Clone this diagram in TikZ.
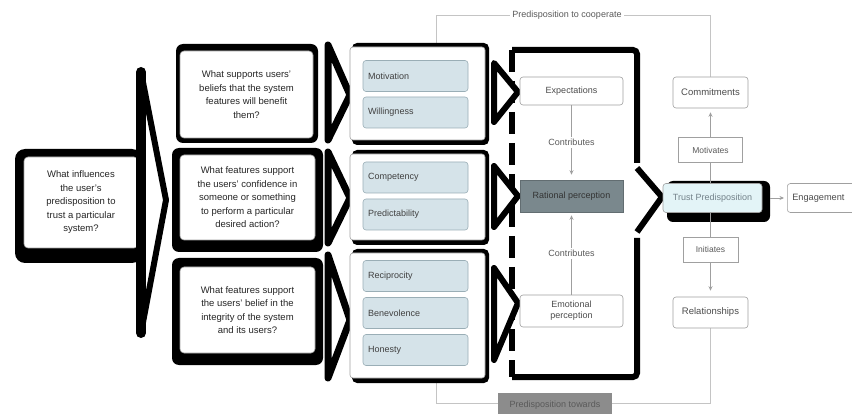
\documentclass[tikz,border=0pt]{standalone}
\usepackage{fontspec}
\setmainfont{Liberation Sans}
\usetikzlibrary{arrows.meta}
\definecolor{itemfill}{HTML}{D5E3E9}
\definecolor{itemline}{HTML}{9AAEB6}
\definecolor{ratfill}{HTML}{7A888D}
\definecolor{trustfill}{HTML}{E3F4F7}
\definecolor{loopcol}{HTML}{C4C4C4}
\definecolor{boxcol}{HTML}{A0A0A0}
\definecolor{lblcol}{HTML}{5A5A5A}
\definecolor{bottomfill}{HTML}{8C8C8C}
\begin{document}
\begin{tikzpicture}[x=1pt,y=-1pt,
  shadowfill/.style={fill=black, rounded corners=7},
  qbox/.style={fill=white, draw=boxcol, line width=0.6, rounded corners=4, inner sep=0pt, align=center, font=\fontsize{9.5}{13.5}\selectfont, text=black!85},
  cbox/.style={fill=white, draw=boxcol, line width=0.6, rounded corners=3, inner sep=0pt},
  itembox/.style={fill=itemfill, draw=itemline, line width=0.6, rounded corners=3, minimum width=105, minimum height=31, inner sep=0pt, text width=95, align=left, font=\fontsize{9}{11}\selectfont, text=black!75},
  pbox/.style={fill=white, draw=boxcol, line width=0.6, rounded corners=3, inner sep=0pt, align=center, font=\fontsize{9}{11}\selectfont, text=black!70},
  ratbox/.style={fill=ratfill, draw=ratfill!80!black, line width=0.6, minimum width=103, minimum height=32, inner sep=0pt, font=\fontsize{9}{11}\selectfont, text=black!80},
  trustbox/.style={fill=trustfill, draw=boxcol, line width=0.6, rounded corners=3, inner sep=0pt, font=\fontsize{9}{11}\selectfont, text=black!55!cyan!40!gray},
  lblbox/.style={fill=white, draw=boxcol, line width=0.6, inner sep=0pt, font=\fontsize{8.5}{10}\selectfont, text=lblcol},
  lbltext/.style={fill=white, inner sep=2pt, font=\fontsize{9}{11}\selectfont, text=lblcol},
  botbox/.style={fill=bottomfill, draw=none, minimum width=114, minimum height=24, inner sep=0pt, font=\fontsize{9}{11}\selectfont, text=black!65},
  chevshape/.style={draw=black, fill=white, line width=7, line join=round},
  arrowline/.style={draw=gray!75, line width=0.7, -{Stealth[length=4.5pt,width=4pt]}},
  looppath/.style={draw=loopcol, line width=0.8}]
\useasboundingbox (0,0) rectangle (852,414);

% ---- loop lines (behind everything) ----
\coordinate (ltop) at (436,15);
\coordinate (rtop) at (710.5,15);
\coordinate (rbot) at (710.5,403);
\coordinate (lbot) at (436,403);
\draw[looppath] (436,43) -- (ltop) -- (rtop) -- (710.5,77);
\draw[looppath] (710.5,328) -- (rbot) -- (lbot) -- (436,383);

% ---- left question ----
\fill[shadowfill, rounded corners=10] (15,149) rectangle (142,263);
\node[qbox, minimum width=114, minimum height=91] (q0) at (81,202.5)
  {What influences\\the user's\\predisposition to\\trust a particular\\system?};
\draw[chevshape, line width=6] (141,72) -- (166,200) -- (141,333) -- cycle;
\draw[line width=10, line cap=round] (141,72) -- (141,333);

% ---- question boxes ----
\fill[shadowfill] (176,44) rectangle (318,143);
\node[qbox, minimum width=133, minimum height=87] (q1) at (246.5,94.5)
  {What supports users'\\beliefs that the system\\features will benefit\\them?};
\fill[shadowfill] (172,148) rectangle (323,252);
\node[qbox, minimum width=135, minimum height=85] (q2) at (247.5,197.5)
  {What features support\\the users' confidence in\\someone or something\\to perform a particular\\desired action?};
\fill[shadowfill] (172,258) rectangle (323,365);
\node[qbox, minimum width=135, minimum height=86] (q3) at (247.5,310)
  {What features support\\the users' belief in the\\integrity of the system\\and its users?};

\draw[chevshape] (328,45) -- (350,95) -- (328,140) -- cycle;
\draw[chevshape] (328,152) -- (350,198) -- (328,243) -- cycle;
\draw[chevshape] (328,255) -- (350,320) -- (328,378) -- cycle;

% ---- containers with items ----
\fill[shadowfill, rounded corners=5] (352,43) rectangle (489,145);
\node[cbox, minimum width=135, minimum height=93] (c1) at (417.5,93.5) {};
\fill[shadowfill, rounded corners=5] (352,150) rectangle (489,245);
\node[cbox, minimum width=135, minimum height=86] (c2) at (417.5,197) {};
\fill[shadowfill, rounded corners=5] (352,249) rectangle (489,383);
\node[cbox, minimum width=135, minimum height=125] (c3) at (417.5,315.5) {};

\node[itembox] (mot) at (415.5,76) {Motivation};
\node[itembox] (wil) at (415.5,112.5) {Willingness};
\node[itembox] (com) at (415.5,177.5) {Competency};
\node[itembox] (pre) at (415.5,214.5) {Predictability};
\node[itembox] (rec) at (415.5,276) {Reciprocity};
\node[itembox] (ben) at (415.5,313) {Benevolence};
\node[itembox] (hon) at (415.5,350) {Honesty};

% ---- perception panel ----
\draw[line width=6, rounded corners=4] (512,50) -- (637,50) -- (637,163);
\draw[line width=6, rounded corners=4] (637,238) -- (637,377) -- (512,377);
\draw[line width=6, dash pattern=on 22pt off 9pt] (512,50) -- (512,377);

\draw[chevshape, line width=6] (494,63) -- (518,92) -- (494,122) -- cycle;
\draw[chevshape, line width=6] (494,166) -- (518,196) -- (494,227) -- cycle;
\draw[chevshape, line width=6] (494,268) -- (518,303) -- (494,360) -- cycle;

\node[pbox, minimum width=103, minimum height=28] (exp) at (571.5,91) {Expectations};
\node[ratbox] (rat) at (571.5,196) {Rational perception};
\node[pbox, minimum width=103, minimum height=32] (emo) at (571.5,311) {Emotional\\perception};

\draw[arrowline, shorten >=5pt] (exp) -- node[lbltext] {Contributes} (rat);
\draw[arrowline, shorten >=3pt] (emo) -- node[lbltext] {Contributes} (rat);

\draw[line width=6, line join=round, fill=white] (637,168) -- (662,197) -- (637,232);

% ---- trust predisposition side ----
\fill[shadowfill, rounded corners=6] (667,181) rectangle (770,222);
\node[trustbox, minimum width=99, minimum height=29] (tru) at (712.5,198) {Trust Predisposition};
\node[pbox, anchor=west, minimum height=29, inner xsep=5pt, text width=80pt, align=left, font=\fontsize{9.2}{11}\selectfont] (eng) at (787,198) {Engagement};
\node[pbox, minimum width=75, minimum height=31, font=\fontsize{9.5}{11}\selectfont] (cmt) at (710.5,92.5) {Commitments};
\node[pbox, minimum width=75, minimum height=31, font=\fontsize{9.5}{11}\selectfont] (rel) at (710.5,312.5) {Relationships};

\draw[arrowline, shorten >=4pt] (cmt.south |- tru.north) -- (cmt.south);
\draw[arrowline, shorten >=6pt] (rel.north |- tru.south) -- (rel.north);
\draw[arrowline, shorten <=8pt, shorten >=3pt] (tru.east) -- (eng.west);

\node[lblbox, minimum width=64, minimum height=25] (mtv) at (710.5,150) {Motivates};
\node[lblbox, minimum width=55, minimum height=25] (ini) at (710.5,249.5) {Initiates};

% ---- loop labels ----
\node[lbltext] (coop) at (567,15) {Predisposition to cooperate};
\node[botbox] (tow) at (555,405) {Predisposition towards};
\end{tikzpicture}
\end{document}
